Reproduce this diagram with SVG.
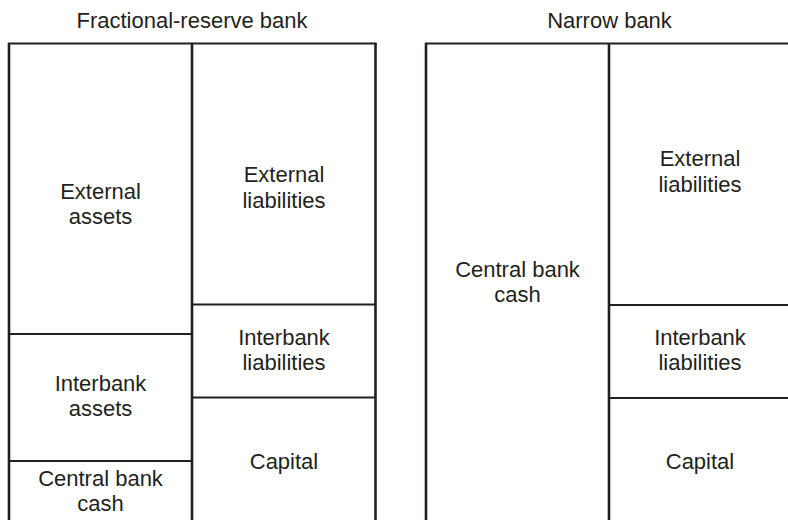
<svg xmlns="http://www.w3.org/2000/svg" width="788" height="520" viewBox="0 0 788 520">
<style>
text{font-family:"Liberation Sans",Arial,sans-serif;font-size:22px;fill:#231f20;text-anchor:middle}
.v{stroke:#231f20;stroke-width:2.6;fill:none}
.h{stroke:#231f20;stroke-width:1.8;fill:none}
</style>
<rect width="788" height="520" fill="#fff"/>
<g id="titles">
<text x="192" y="28">Fractional-reserve bank</text>
<text x="609.5" y="28">Narrow bank</text>
</g>
<g id="frames">
<path class="h" d="M8 43.5H376.5M425 43.5H790"/>
<path class="v" d="M9 43V525M192 43V525M375.5 43V525M426 43V525M609 43V525"/>
<path class="h" d="M9 334H192M9 461H192M192 304.5H375.5M192 397.5H375.5M609 305H790M609 398H790"/>
</g>
<g id="frb-external-assets"><text x="100.5" y="199">External</text><text x="100.5" y="224">assets</text></g>
<g id="frb-interbank-assets"><text x="100.5" y="391">Interbank</text><text x="100.5" y="416">assets</text></g>
<g id="frb-central-bank-cash"><text x="100.5" y="486">Central bank</text><text x="100.5" y="511">cash</text></g>
<g id="frb-external-liabilities"><text x="284" y="182">External</text><text x="284" y="207.5">liabilities</text></g>
<g id="frb-interbank-liabilities"><text x="284" y="344.5">Interbank</text><text x="284" y="370">liabilities</text></g>
<g id="frb-capital"><text x="284" y="469">Capital</text></g>
<g id="nb-central-bank-cash"><text x="517.5" y="277">Central bank</text><text x="517.5" y="302">cash</text></g>
<g id="nb-external-liabilities"><text x="700" y="166">External</text><text x="700" y="192">liabilities</text></g>
<g id="nb-interbank-liabilities"><text x="700" y="344.5">Interbank</text><text x="700" y="370">liabilities</text></g>
<g id="nb-capital"><text x="700" y="468.5">Capital</text></g>
</svg>
